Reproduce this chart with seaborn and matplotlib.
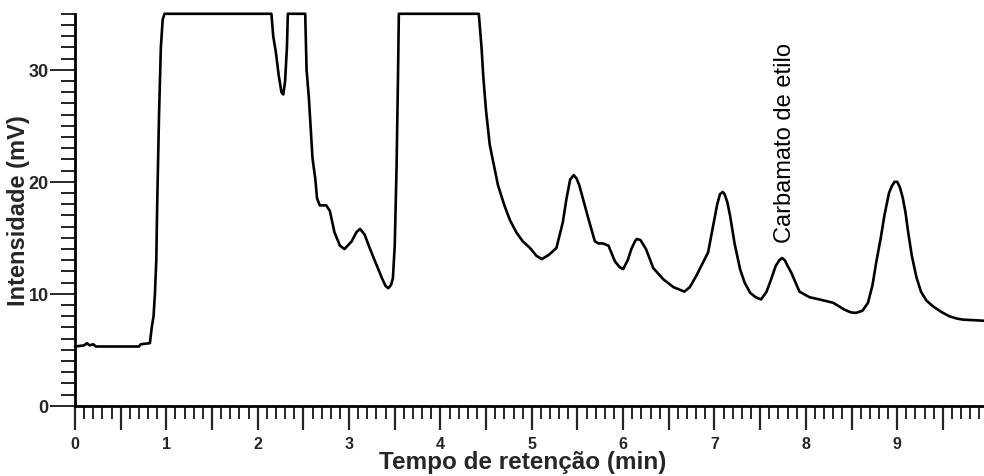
import matplotlib
matplotlib.use("Agg")
import matplotlib.pyplot as plt
from matplotlib.ticker import MultipleLocator, FuncFormatter
import seaborn as sns
import pandas as pd

# Chromatogram trace: retention time (min) and detector signal (mV)
tempo_min = [
    0.00, 0.10, 0.13, 0.16, 0.20, 0.23, 0.70, 0.72, 0.82, 0.84, 0.86, 0.875,
    0.89, 0.90, 0.92, 0.94, 0.96, 0.98, 2.15, 2.17, 2.20, 2.23, 2.26, 2.28,
    2.30, 2.32, 2.33, 2.52, 2.535, 2.56, 2.58, 2.60, 2.63, 2.65, 2.68, 2.75,
    2.79, 2.84, 2.90, 2.95, 3.03, 3.08, 3.12, 3.17, 3.23, 3.30, 3.36, 3.40,
    3.43, 3.46, 3.48, 3.50, 3.52, 3.535, 3.545, 4.42, 4.45, 4.47, 4.50, 4.54,
    4.60, 4.63, 4.70, 4.76, 4.83, 4.90, 4.98, 5.05, 5.11, 5.19, 5.27, 5.34,
    5.38, 5.42, 5.46, 5.49, 5.52, 5.56, 5.62, 5.69, 5.73, 5.78, 5.84, 5.91,
    5.96, 6.00, 6.05, 6.09, 6.13, 6.15, 6.19, 6.22, 6.25, 6.33, 6.44, 6.55,
    6.67, 6.73, 6.80, 6.93, 7.00, 7.03, 7.06, 7.09, 7.11, 7.14, 7.17, 7.22,
    7.28, 7.33, 7.39, 7.45, 7.51, 7.57, 7.62, 7.67, 7.71, 7.74, 7.77, 7.80,
    7.84, 7.93, 8.04, 8.15, 8.30, 8.42, 8.49, 8.55, 8.62, 8.68, 8.73, 8.77,
    8.82, 8.86, 8.91, 8.94, 8.97, 9.00, 9.03, 9.06, 9.09, 9.12, 9.16, 9.21,
    9.26, 9.32, 9.39, 9.48, 9.57, 9.65, 9.72, 9.95,
]
intensidade_mv = [
    5.3, 5.4, 5.6, 5.4, 5.5, 5.3, 5.3, 5.5, 5.6, 7.0, 8.0, 10.0,
    13.0, 18.0, 26.0, 32.0, 34.5, 35.0, 35.0, 33.0, 31.5, 29.5, 28.0, 27.8,
    29.0, 32.0, 35.0, 35.0, 30.0, 27.5, 24.8, 22.1, 20.3, 18.5, 17.9, 17.9,
    17.4, 15.5, 14.3, 14.0, 14.7, 15.5, 15.8, 15.3, 14.0, 12.6, 11.4, 10.7,
    10.5, 10.8, 11.4, 14.3, 21.3, 29.0, 35.0, 35.0, 32.0, 29.3, 26.3, 23.3,
    20.9, 19.7, 17.9, 16.6, 15.5, 14.7, 14.1, 13.4, 13.1, 13.5, 14.1, 16.4,
    18.5, 20.2, 20.6, 20.3, 19.7, 18.5, 16.7, 14.7, 14.5, 14.5, 14.3, 12.9,
    12.4, 12.2, 13.0, 14.0, 14.7, 14.9, 14.8, 14.4, 14.0, 12.3, 11.3, 10.6,
    10.2, 10.6, 11.6, 13.7, 16.7, 18.0, 18.9, 19.1, 18.9, 18.2, 17.0, 14.5,
    12.2, 11.0, 10.1, 9.7, 9.5, 10.2, 11.3, 12.5, 13.0, 13.2, 13.0, 12.5,
    11.9, 10.2, 9.7, 9.5, 9.2, 8.6, 8.35, 8.3, 8.5, 9.2, 10.8, 12.8,
    15.0, 17.0, 19.0, 19.6, 20.0, 20.0, 19.5, 18.6, 17.3, 15.5, 13.4, 11.5,
    10.2, 9.4, 8.9, 8.4, 8.0, 7.8, 7.7, 7.6,
]

# Peak annotation
pico_nome = "Carbamato de etilo"
pico_tempo = 7.74
pico_altura = 13.2

x_ticks = [0, 1, 2, 3, 4, 5, 6, 7, 8, 9]
y_ticks = [0, 10, 20, 30]

sns.set_theme(style="ticks")
plt.rcParams["font.family"] = ["Liberation Sans", "DejaVu Sans"]

df = pd.DataFrame({"tempo": tempo_min, "sinal": intensidade_mv})

fig = plt.figure(figsize=(9.84, 4.77), dpi=100)
ax = fig.add_axes([0.0762, 0.147, 0.9238, 0.822])

sns.lineplot(data=df, x="tempo", y="sinal", sort=False, estimator=None,
             color="black", linewidth=1.9, ax=ax, clip_on=False)

ax.set_xlim(0, 9.95)
ax.set_ylim(0, 35)

# Ticks: every 0.5 min long, every 0.1 min short; labels on whole minutes
ax.xaxis.set_major_locator(MultipleLocator(0.5))
ax.xaxis.set_minor_locator(MultipleLocator(0.1))
ax.xaxis.set_major_formatter(FuncFormatter(
    lambda v, p: f"{int(round(v))}" if abs(v - round(v)) < 1e-6 and int(round(v)) in x_ticks else ""))
ax.yaxis.set_major_locator(MultipleLocator(10))
ax.yaxis.set_minor_locator(MultipleLocator(1))
ax.yaxis.set_major_formatter(FuncFormatter(
    lambda v, p: f"{int(round(v))}" if int(round(v)) in y_ticks else ""))

ax.tick_params(axis="x", which="major", length=17, width=1.6, pad=5,
               labelsize=11.5, direction="out")
ax.tick_params(axis="x", which="minor", length=9, width=1.4, direction="out")
ax.tick_params(axis="y", which="major", length=18, width=1.4, pad=1,
               labelsize=13, direction="out")
ax.tick_params(axis="y", which="minor", length=10, width=1.4, direction="out")
for lab in ax.get_xticklabels() + ax.get_yticklabels():
    lab.set_fontweight("bold")

for side in ("top", "right"):
    ax.spines[side].set_visible(False)
for side in ("left", "bottom"):
    ax.spines[side].set_linewidth(2.0)
    ax.spines[side].set_color("black")

ax.set_xlabel("Tempo de retenção (min)", fontsize=17.5, fontweight="bold")
ax.set_ylabel("Intensidade (mV)", fontsize=17, fontweight="bold")
ax.xaxis.set_label_coords(0.493, -0.112)
ax.yaxis.set_label_coords(-0.05, 0.5)

ax.text(pico_tempo + 0.03, pico_altura + 1.4, pico_nome, rotation=90,
        ha="center", va="bottom", fontsize=17, color="black")

fig.savefig("out.png", dpi=100, facecolor="white")
